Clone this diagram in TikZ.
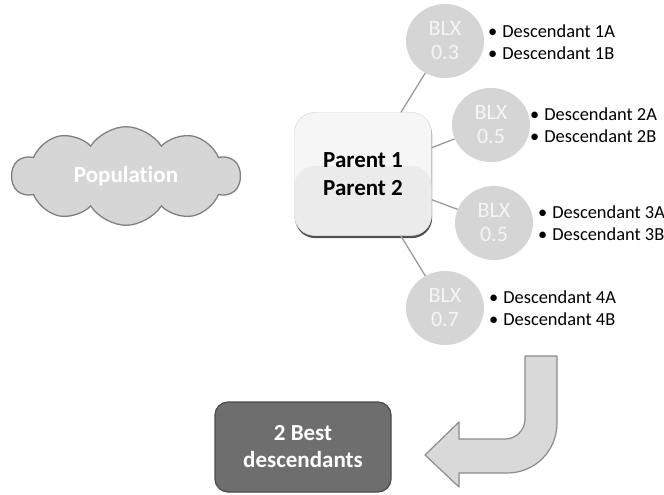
\documentclass[tikz,border=0pt]{standalone}
\usepackage{fontspec}
\setmainfont{Carlito}[Ligatures=NoCommon]
\usetikzlibrary{shapes.geometric,shapes.symbols,shadows}

\definecolor{cloudfill}{HTML}{D6D6D6}
\definecolor{cloudline}{HTML}{808080}
\definecolor{blxfill}{HTML}{D5D5D5}
\definecolor{blxtext}{HTML}{F5F5F5}
\definecolor{linkgray}{HTML}{9A9A9A}
\definecolor{parenttop}{HTML}{F6F6F6}
\definecolor{parentlow}{HTML}{EBEBEB}
\definecolor{parentline}{HTML}{D2D2D2}
\definecolor{bestfill}{HTML}{6E6E6E}
\definecolor{bestline}{HTML}{4A4A4A}
\definecolor{arrowfill}{HTML}{D9D9D9}
\definecolor{arrowline}{HTML}{8C8C8C}

\tikzset{
  blx/.style={ellipse, fill=blxfill, minimum width=78pt, minimum height=74pt,
              inner sep=0pt, align=center, text=blxtext,
              font=\fontsize{22}{24}\selectfont},
  desc/.style={anchor=west, inner sep=0pt, align=left,
               font=\fontsize{18.4}{22.5}\selectfont},
  link/.style={draw=linkgray, line width=1.3pt},
}

\begin{document}
\begin{tikzpicture}[x=1pt, y=-1pt]
  \useasboundingbox (0,0) rectangle (664,495);

  % population cloud
  \node[cloud, cloud puffs=10, cloud puff arc=115, aspect=1.9,
        draw=cloudline, line width=1.3pt, fill=cloudfill,
        minimum width=228pt, minimum height=96pt, inner sep=0pt,
        text=white, font=\bfseries\fontsize{23}{27}\selectfont]
       (pop) at (126,176) {Population};

  % parents
  \node[rectangle, rounded corners=20pt, draw=parentline, fill=parenttop,
        minimum width=137pt, minimum height=123pt, align=center,
        drop shadow={shadow xshift=0.6pt, shadow yshift=-2.6pt,
                     opacity=0.85, fill=black!80},
        path picture={\fill[parentlow] ([yshift=8pt]path picture bounding box.west)
                      rectangle (path picture bounding box.south east);},
        font=\bfseries\fontsize{23}{28}\selectfont]
       (parent) at (363,174) {Parent 1\\Parent 2};

  % crossover operators
  \node[blx] (blx1) at (445,41)  {BLX\\0.3};
  \node[blx] (blx2) at (491,125) {BLX\\0.5};
  \node[blx] (blx3) at (494,223) {BLX\\0.5};
  \node[blx] (blx4) at (445,308) {BLX\\0.7};

  \draw[link] (parent) -- (blx1);
  \draw[link] (parent) -- (blx2);
  \draw[link] (parent) -- (blx3);
  \draw[link] (parent) -- (blx4);

  % descendants
  \node[desc] (desc1) at (488,42)
       {•\hspace{5pt}Descendant 1A\\•\hspace{5pt}Descendant 1B};
  \node[desc] (desc2) at (530,125)
       {•\hspace{5pt}Descendant 2A\\•\hspace{5pt}Descendant 2B};
  \node[desc] (desc3) at (538,223)
       {•\hspace{5pt}Descendant 3A\\•\hspace{5pt}Descendant 3B};
  \node[desc] (desc4) at (489,308)
       {•\hspace{5pt}Descendant 4A\\•\hspace{5pt}Descendant 4B};

  % selection
  \node[rectangle, rounded corners=13pt, draw=bestline, line width=1.2pt,
        fill=bestfill, minimum width=176pt, minimum height=90pt,
        align=center, text=white,
        font=\bfseries\fontsize{23}{27}\selectfont]
       (best) at (303,447) {2 Best\\descendants};

  % bent arrow
  \draw[draw=arrowline, fill=arrowfill, line width=1.2pt, line join=round]
    (525,356) -- (557,356) -- (557,423)
    .. controls (557,451) and (535,473) .. (507,473)
    -- (459,473) -- (459,487) -- (425,455) -- (459,422) -- (459,439)
    -- (505,439) .. controls (516,439) and (525,430) .. (525,419)
    -- cycle;
\end{tikzpicture}
\end{document}
